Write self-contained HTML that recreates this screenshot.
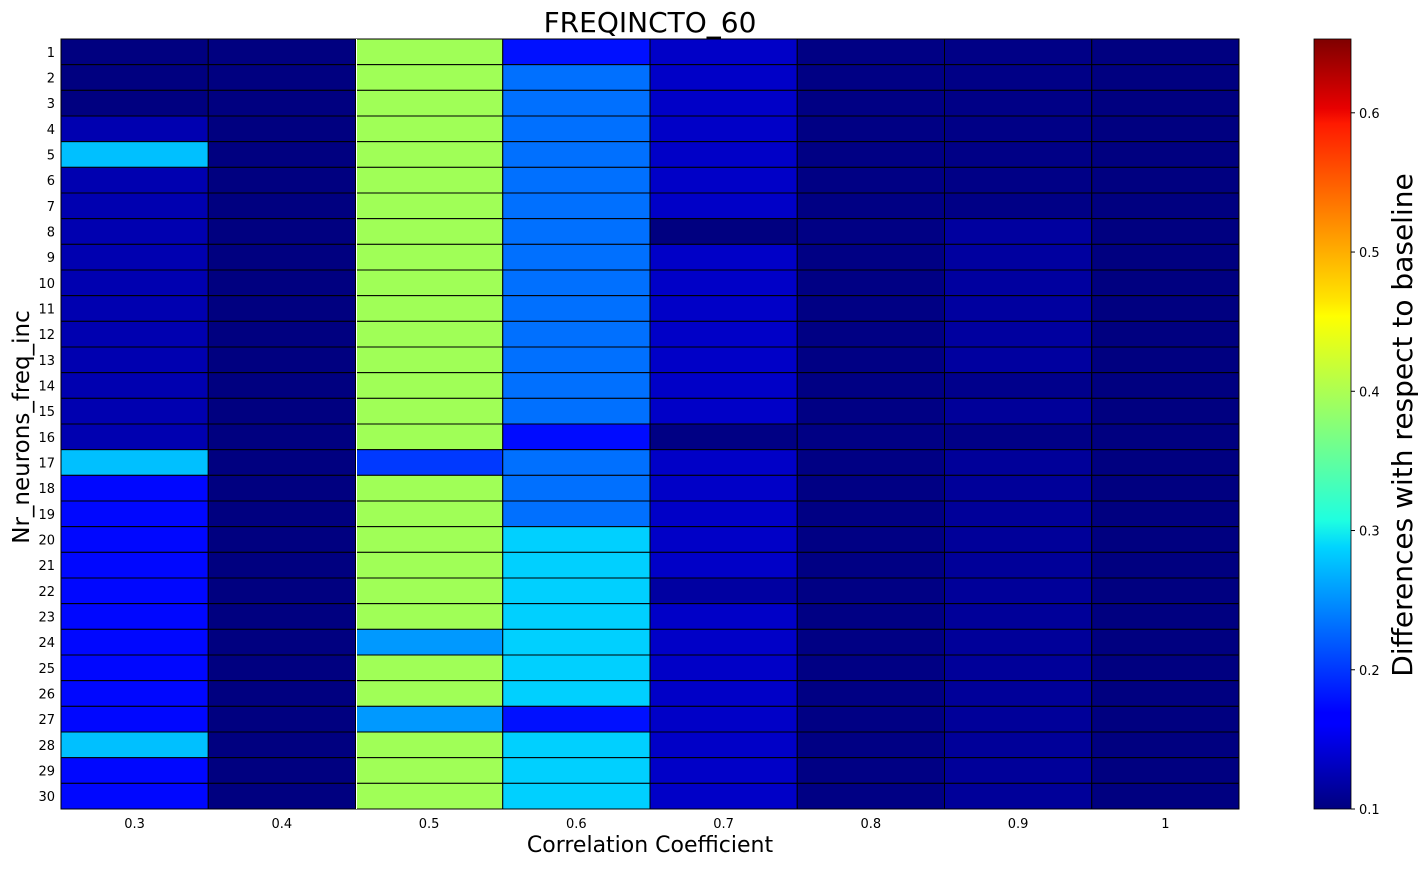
<!DOCTYPE html>
<html><head><meta charset="utf-8"><style>
body{margin:0;background:#fff;font-family:"Liberation Sans","DejaVu Sans",sans-serif;}
</style></head><body>
<svg id="chart" width="1426" height="866" xmlns="http://www.w3.org/2000/svg" font-family="DejaVu Sans, Liberation Sans, sans-serif">
<defs><linearGradient id="jet" x1="0" y1="1" x2="0" y2="0">
<stop offset="0" stop-color="#00007f"/><stop offset="0.11" stop-color="#0000ff"/><stop offset="0.125" stop-color="#0000ff"/>
<stop offset="0.34" stop-color="#00d4ff"/><stop offset="0.375" stop-color="#1fffe0"/><stop offset="0.64" stop-color="#ffff00"/>
<stop offset="0.66" stop-color="#ffe600"/><stop offset="0.89" stop-color="#ff1a00"/><stop offset="0.91" stop-color="#e80000"/><stop offset="1" stop-color="#7f0000"/>
</linearGradient></defs>
<g id="cells"></g>
<g id="axes"></g>
</svg>
<script>
const xCategories = ["0.3","0.4","0.5","0.6","0.7","0.8","0.9","1"];
const yCategories = Array.from({length:30},(_,i)=>String(i+1));
const col03 = [0.1,0.1,0.1,0.123,0.273,0.123,0.123,0.123,0.123,0.123,0.123,0.123,0.123,0.123,0.123,0.123,0.273,0.173,0.173,0.173,0.173,0.173,0.173,0.173,0.173,0.173,0.173,0.273,0.173,0.173];
const col04 = [0.1,0.1,0.1,0.1,0.1,0.1,0.1,0.1,0.1,0.1,0.1,0.1,0.1,0.1,0.1,0.1,0.1,0.1,0.1,0.1,0.1,0.1,0.1,0.1,0.1,0.1,0.1,0.1,0.1,0.1];
const col05 = [0.401,0.401,0.401,0.401,0.401,0.401,0.401,0.401,0.401,0.401,0.401,0.401,0.401,0.401,0.401,0.401,0.2,0.401,0.401,0.401,0.401,0.401,0.401,0.252,0.401,0.401,0.252,0.401,0.401,0.401];
const col06 = [0.178,0.23,0.23,0.23,0.23,0.23,0.23,0.23,0.23,0.23,0.23,0.23,0.23,0.23,0.23,0.175,0.23,0.23,0.23,0.282,0.282,0.282,0.282,0.282,0.282,0.282,0.178,0.282,0.282,0.282];
const col07 = [0.134,0.134,0.134,0.134,0.134,0.134,0.134,0.1,0.134,0.134,0.134,0.134,0.134,0.134,0.134,0.102,0.134,0.134,0.134,0.134,0.134,0.116,0.134,0.134,0.134,0.134,0.134,0.134,0.134,0.134];
const col08 = [0.102,0.102,0.102,0.102,0.102,0.102,0.102,0.102,0.102,0.102,0.102,0.102,0.102,0.102,0.102,0.102,0.102,0.102,0.102,0.102,0.102,0.102,0.102,0.102,0.102,0.102,0.102,0.102,0.102,0.102];
const col09 = [0.103,0.103,0.103,0.103,0.103,0.103,0.103,0.115,0.115,0.115,0.115,0.115,0.115,0.106,0.112,0.103,0.112,0.112,0.112,0.112,0.112,0.112,0.112,0.112,0.112,0.112,0.112,0.112,0.112,0.112];
const col10 = [0.1,0.1,0.1,0.1,0.1,0.1,0.1,0.1,0.1,0.1,0.1,0.1,0.1,0.1,0.1,0.1,0.1,0.1,0.1,0.1,0.1,0.1,0.1,0.1,0.1,0.1,0.1,0.1,0.1,0.1];
const seriesValues = [col03,col04,col05,col06,col07,col08,col09,col10];
const cbTicks = [0.1,0.2,0.3,0.4,0.5,0.6];
const vmin = 0.1, vmax = 0.653;

const NS="http://www.w3.org/2000/svg";
const L=61,R=1239,T=39,B=809;
const cw=(R-L)/xCategories.length, ch=(B-T)/yCategories.length;
const xPos=i=>L+i*cw, yPos=j=>T+j*ch;
function interp(pts,t){for(let k=1;k<pts.length;k++){if(t<=pts[k][0]){const a=pts[k-1],b=pts[k];return a[1]+(b[1]-a[1])*(t-a[0])/(b[0]-a[0]);}}return pts[pts.length-1][1];}
function jet(v){let t=Math.max(0,Math.min(1,(v-vmin)/(vmax-vmin)));
 const r=interp([[0,0],[0.35,0],[0.66,1],[0.89,1],[1,0.5]],t);
 const g=interp([[0,0],[0.125,0],[0.375,1],[0.64,1],[0.91,0],[1,0]],t);
 const b=interp([[0,0.5],[0.11,1],[0.34,1],[0.65,0],[1,0]],t);
 return `rgb(${Math.round(r*255)},${Math.round(g*255)},${Math.round(b*255)})`;}
function mk(tag,attrs,parent,text){const e=document.createElementNS(NS,tag);for(const k in attrs)e.setAttribute(k,attrs[k]);if(text!=null)e.textContent=text;parent.appendChild(e);return e;}
const cells=document.getElementById('cells'), axes=document.getElementById('axes');
seriesValues.forEach((col,i)=>col.forEach((v,j)=>{
 const r=mk('rect',{x:xPos(i),y:yPos(j),width:cw,height:ch,fill:jet(v),stroke:'#000','stroke-width':1},cells);
 
 
}));
const wl=mk('line',{x1:xPos(2)+1,y1:T,x2:xPos(2)+1,y2:B,stroke:'#fff','stroke-width':1},axes);


xCategories.forEach((c,i)=>{
 const t=mk('text',{x:xPos(i)+cw/2,y:B+19,'font-size':13,'text-anchor':'middle'},axes,c);
 
 
});
yCategories.forEach((c,j)=>{
 const t=mk('text',{x:L-6,y:yPos(j)+ch/2+5,'font-size':13,'text-anchor':'end'},axes,c);
 
 
});
const cbL=1314,cbW=37;
const cb=mk('rect',{x:cbL,y:T,width:cbW,height:B-T,fill:'url(#jet)',stroke:'#000','stroke-width':0.8},axes);


cbTicks.forEach(v=>{
 const y=B-(v-vmin)/(vmax-vmin)*(B-T);
 mk('line',{x1:cbL+cbW,y1:y,x2:cbL+cbW+4,y2:y,stroke:'#000'},axes);
 const t=mk('text',{x:cbL+cbW+8,y:y+5,'font-size':13},axes,String(v));
 
 
});
</script>
<svg style="position:absolute;left:0;top:0" width="1426" height="866" xmlns="http://www.w3.org/2000/svg" font-family="DejaVu Sans, Liberation Sans, sans-serif">
<text x="650" y="32" font-size="28" text-anchor="middle">FREQINCTO_60</text>
<text x="650" y="852" font-size="22" text-anchor="middle">Correlation Coefficient</text>
<text transform="translate(29,427) rotate(-90)" font-size="23" text-anchor="middle">Nr_neurons_freq_inc</text>
<text transform="translate(1412,425) rotate(-90)" font-size="28" text-anchor="middle">Differences with respect to baseline</text>
</svg>
</body></html>
